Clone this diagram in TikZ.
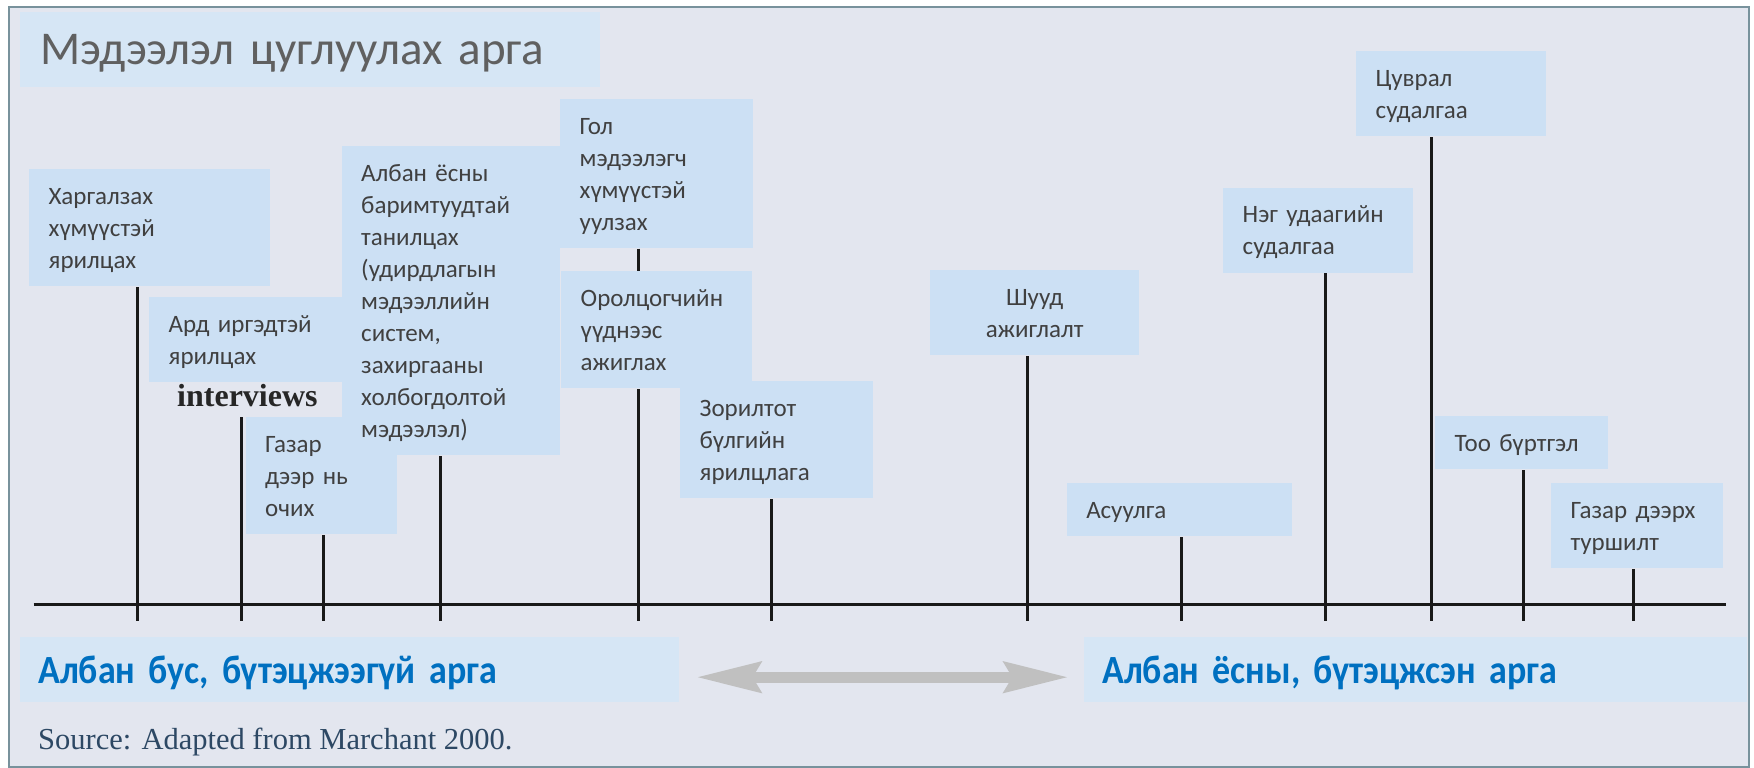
\documentclass[tikz,border=0pt]{standalone}
\usepackage{fontspec}
\setmainfont{Carlito}
\newfontfamily\sidefont{Carlito}[FakeStretch=0.9]
\newfontfamily\srcfont{Liberation Serif}
\usetikzlibrary{arrows.meta}

\definecolor{panelbg}{RGB}{227,230,239}
\definecolor{framegray}{RGB}{120,146,156}
\definecolor{boxblue}{RGB}{204,224,244}
\definecolor{headblue}{RGB}{214,230,245}
\definecolor{textgray}{RGB}{64,64,64}
\definecolor{titlegray}{RGB}{96,96,96}
\definecolor{sideblue}{RGB}{0,112,192}
\definecolor{srcblue}{RGB}{45,72,100}
\definecolor{arrowgray}{RGB}{192,192,192}

\begin{document}
\begin{tikzpicture}[x=1pt,y=-1pt]
\tikzset{method/.style={fill=boxblue, anchor=north west, align=left, text=textgray,
           font=\fontsize{25}{32}\selectfont, inner xsep=19.5, inner ysep=8.5,
           execute at begin node={\rule{0pt}{26.5pt}}, execute at end node={\strut}},
         sidebox/.style={fill=headblue, anchor=north west, align=left, inner ysep=0,
           font=\sidefont\bfseries\fontsize{40}{44}\selectfont, text=sideblue,
           minimum height=65, text height=38, text depth=10.4},
         stem/.style={line width=3pt, draw=black!90},
         twoway/.style={line width=11pt, draw=arrowgray,
           {Stealth[length=64pt,width=30pt,inset=8pt]}-{Stealth[length=64pt,width=30pt,inset=8pt]}}}

\fill[white] (0,0) rectangle (1754,768);
\useasboundingbox (0,0) rectangle (1754,768);
\draw[fill=panelbg, draw=framegray, line width=1.5pt] (9,7) rectangle (1749,767);

\node (title) [fill=headblue, anchor=north west, align=left, minimum width=580, minimum height=75,
  text width=540, inner xsep=20, inner ysep=0, text height=36, text depth=7, text=titlegray,
  font=\fontsize{47}{50}\selectfont] at (20,12) {Мэдээлэл цуглуулах арга};

\node (hk) [method, text width=202] at (29,169) {Харгалзах\\хүмүүстэй\\ярилцах};
\node (ard) [method, text width=170] at (149,297) {Ард~иргэдтэй\\ярилцах};
\node (iv) [anchor=base west, inner xsep=0, inner ysep=10, text=black!85,
  font=\srcfont\bfseries\fontsize{32}{32}\selectfont] at (177,406) {interviews};
\node (gaz) [method, text width=112.5] at (245.5,417) {Газар\\дээр~нь\\очих};
\node (alb) [method, text width=179.5] at (341.5,146) {Албан~ёсны\\баримтуудтай\\танилцах\\(удирдлагын\\мэдээллийн\\систем,\\захиргааны\\холбогдолтой\\мэдээлэл)};
\node (gol) [method, text width=154] at (560,99) {Гол\\мэдээлэгч\\хүмүүстэй\\уулзах};
\node (oro) [method, text width=152] at (561,271) {Оролцогчийн\\үүднээс\\ажиглах};
\node (zor) [method, text width=154] at (680,381) {Зорилтот\\бүлгийн\\ярилцлага};
\node (shu) [method, text width=170, align=center] at (930,270) {Шууд\\ажиглалт};
\node (asu) [method, text width=186] at (1066.6,483) {Асуулга};
\node (neg) [method, text width=151] at (1223,187.5) {Нэг~удаагийн\\судалгаа};
\node (tsu) [method, text width=151] at (1356,51) {Цуврал\\судалгаа};
\node (too) [method, text width=134] at (1435,416) {Тоо~бүртгэл};
\node (gzd) [method, text width=132.6] at (1551,483) {Газар~дээрх\\туршилт};

\coordinate (a0) at (33.6,604.3);
\coordinate (a1) at (1726,604.3);
\draw[stem] (a0) -- (a1);

\coordinate (t1) at (137.6,620.5);
\coordinate (t2) at (241.6,620.5);
\coordinate (t3) at (323.6,620.5);
\coordinate (t4) at (440.7,620.5);
\coordinate (t5) at (638,620.5);
\coordinate (t6) at (771,620.5);
\coordinate (t7) at (1027.5,620.5);
\coordinate (t8) at (1181.5,620.5);
\coordinate (t9) at (1325,620.5);
\coordinate (t10) at (1431,620.5);
\coordinate (t11) at (1523.6,620.5);
\coordinate (t12) at (1633.5,620.5);

\foreach \t/\b in {t1/hk,t2/iv,t3/gaz,t4/alb,t5/oro,t6/zor,t7/shu,t8/asu,t9/neg,t10/tsu,t11/too,t12/gzd}
  \draw[stem] (\t) -- (\t |- \b.south);
\draw[stem] (t5 |- gol.south) -- (t5 |- oro.north);

\node (informal) [sidebox, minimum width=659, text width=623, inner xsep=18] at (20,637) {Албан бус, бүтэцжээгүй арга};
\node (formal) [sidebox, minimum width=663.5, text width=626.5, inner xsep=18.5] at (1083.5,637) {Албан ёсны, бүтэцжсэн арга};
\draw[twoway] ([xshift=17pt,yshift=-7.5pt]informal.east) -- ([xshift=-15pt,yshift=-7.5pt]formal.west);

\node (src) [anchor=base west, inner sep=0, text=srcblue, font=\srcfont\fontsize{30.5}{30.5}\selectfont]
  at (38,749) {Source: Adapted from Marchant 2000.};
\end{tikzpicture}
\end{document}
